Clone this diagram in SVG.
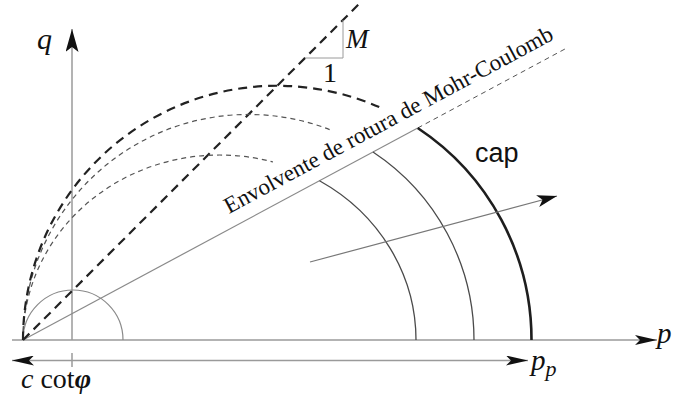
<svg xmlns="http://www.w3.org/2000/svg" width="680" height="396" viewBox="0 0 680 396">
<style>
.axis{stroke:#9a9a9a;stroke-width:1.5;fill:none}
.thin{stroke:#8a8a8a;stroke-width:1.2;fill:none}
.arc{stroke:#4a4a4a;stroke-width:1.3;fill:none}
.cap{stroke:#1e1e1e;stroke-width:2.6;fill:none}
.bigdash{stroke:#222;stroke-width:2.2;fill:none;stroke-dasharray:9 6}
.smalldash{stroke:#555;stroke-width:1.2;fill:none;stroke-dasharray:5 4}
.serif{font-family:"Liberation Serif","Times New Roman",serif;fill:#111}
.sans{font-family:"Liberation Sans",Arial,sans-serif;fill:#111}
</style>
<defs>
<marker id="ah" viewBox="0 0 22 10" markerWidth="22" markerHeight="10" refX="22" refY="5" orient="auto-start-reverse" markerUnits="userSpaceOnUse">
<path d="M0,0 L22,5 L0,10 L5,5 z" fill="#111"/>
</marker>
<marker id="ahq" viewBox="0 0 23 13" markerWidth="23" markerHeight="13" refX="23" refY="6.5" orient="auto" markerUnits="userSpaceOnUse">
<path d="M0,0 L23,6.5 L0,13 L5,6.5 z" fill="#111"/>
</marker>
<marker id="ahl" viewBox="0 0 20 12" markerWidth="20" markerHeight="12" refX="20" refY="6" orient="auto" markerUnits="userSpaceOnUse">
<path d="M0,0 L20,6 L0,12 L5,6 z" fill="#111"/>
</marker>
</defs>

<g id="axes">
<line class="axis" x1="12" y1="340" x2="657" y2="340" marker-end="url(#ah)"/>
<line class="axis" x1="72" y1="340" x2="72" y2="29" marker-end="url(#ahq)"/>
<line class="axis" x1="12" y1="360.5" x2="528" y2="360.5" marker-start="url(#ah)" marker-end="url(#ah)"/>
<line class="axis" x1="72" y1="353" x2="72" y2="367"/>
</g>

<g id="connectors">
<!-- Mohr-Coulomb envelope -->
<line class="thin" x1="23" y1="340" x2="417.7" y2="128"/>
<line class="smalldash" x1="417.7" y1="128" x2="567" y2="47.9" style="stroke-width:1"/>
<!-- critical state line M -->
<line class="bigdash" x1="23" y1="340" x2="359" y2="4"/>
<polyline class="axis" style="stroke-width:1" points="305,58 343,58 343,20"/>
<!-- small circle -->
<path class="thin" d="M23,340 A50,50 0 0 1 123,340"/>
<!-- yield surfaces -->
<path class="smalldash" d="M23,340 A196.5,185 0 0 1 273,162"/>
<path class="arc" d="M416,340 A196.5,185 0 0 0 319.5,180.8"/>
<path class="smalldash" d="M23,340 A225.5,225.5 0 0 1 330,129.7"/>
<path class="arc" d="M474,340 A225.5,225.5 0 0 0 373,152"/>
<path class="bigdash" d="M23,340 A254.25,254.25 0 0 1 381,107.9"/>
<path class="cap" d="M531.5,340 A254.25,254.25 0 0 0 417.7,128"/>
<!-- loading path -->
<line x1="310" y1="262" x2="557" y2="196" stroke="#777" stroke-width="1.2" marker-end="url(#ahl)"/>
</g>

<g id="labels">
<text class="serif" x="37" y="49" font-size="30" font-style="italic">q</text>
<text class="serif" x="657" y="343" font-size="29" font-style="italic">p</text>
<text class="serif" x="531" y="370" font-size="29" font-style="italic">p<tspan font-size="22" dy="6">p</tspan></text>
<text class="serif" x="21" y="388" font-size="28"><tspan font-style="italic">c</tspan> cot<tspan font-style="italic" font-weight="bold">φ</tspan></text>
<text class="serif" x="323" y="82" font-size="28">1</text>
<text class="serif" x="346" y="48" font-size="27" font-style="italic">M</text>
<text class="sans" x="475" y="162" font-size="27">cap</text>
<text class="serif" font-size="23" transform="translate(229,214) rotate(-28.24)">Envolvente de rotura de Mohr-Coulomb</text>
</g>
</svg>
